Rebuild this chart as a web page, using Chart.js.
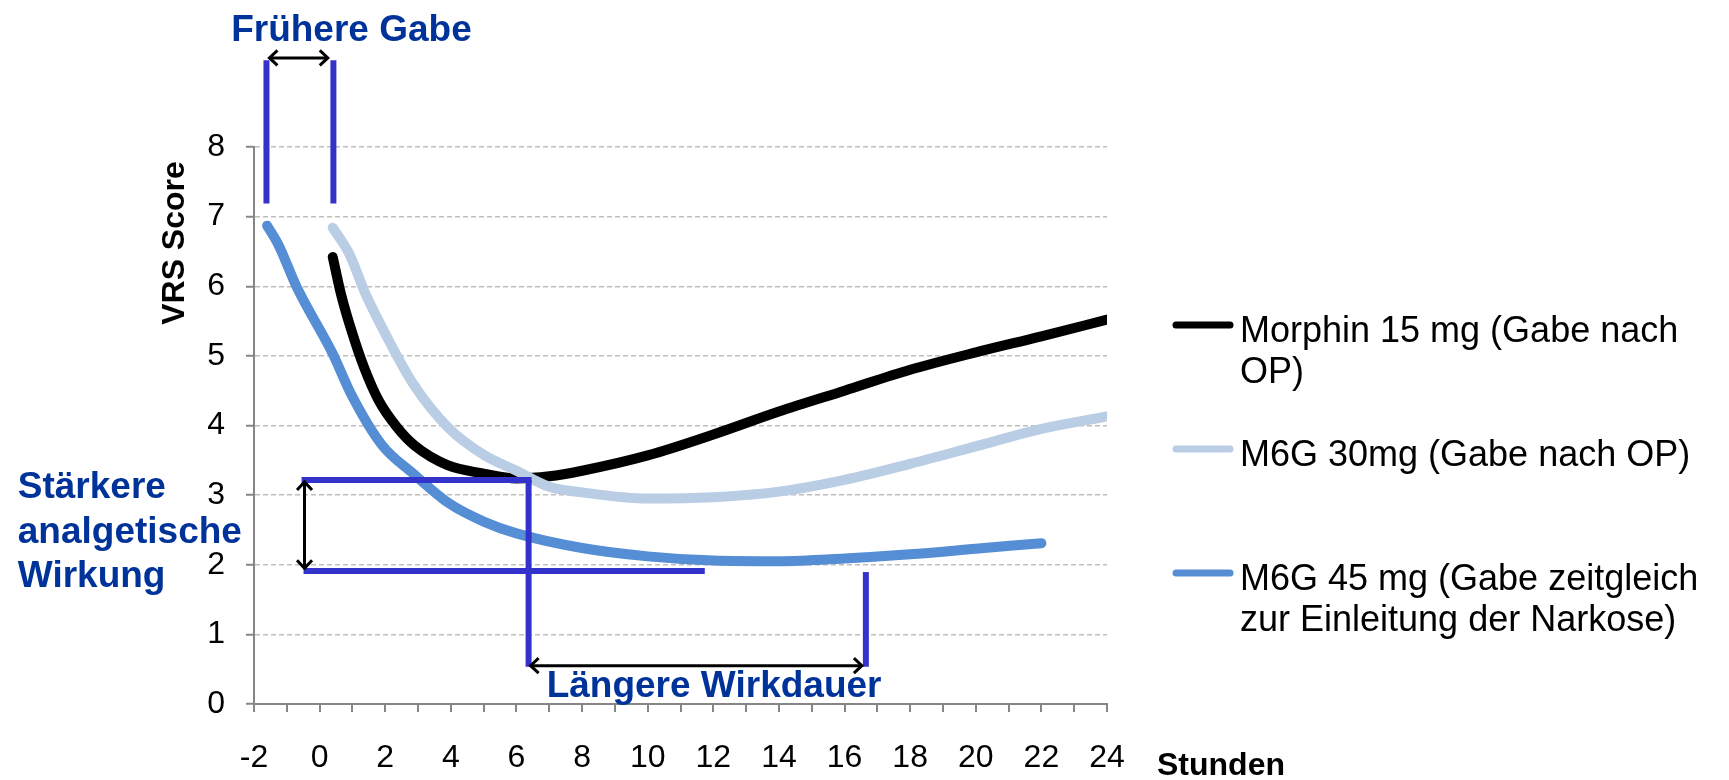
<!DOCTYPE html>
<html lang="de">
<head>
  <meta charset="UTF-8" />
  <title>VRS Score</title>
  <script src="https://cdn.jsdelivr.net/npm/chart.js"></script>
  <style>
    html, body { margin: 0; padding: 0; background: #fff; }
  </style>
</head>
<body>
  <canvas id="grafico" width="1729" height="780"></canvas>

  <script>
    // Werte
    const morphinX = [0.4, 0.65, 1.0, 1.35, 1.8, 2.35, 2.9, 3.9, 5.0, 6.0, 7.0, 8.0, 10, 12, 14, 16, 18, 20, 22, 24];
    const morphinY = [6.42, 5.89, 5.32, 4.84, 4.36, 3.98, 3.71, 3.43, 3.31, 3.24, 3.27, 3.35, 3.57, 3.87, 4.2, 4.5, 4.8, 5.05, 5.28, 5.52];

    const m6g30X = [0.4, 0.9, 1.4, 2.0, 2.85, 3.9, 5.0, 6.0, 7.0, 8.0, 10, 12, 14, 16, 18, 20, 22, 24];
    const m6g30Y = [6.84, 6.47, 5.89, 5.32, 4.60, 3.98, 3.58, 3.35, 3.12, 3.04, 2.95, 2.97, 3.05, 3.22, 3.45, 3.70, 3.95, 4.13];

    const m6g45X = [-1.6, -1.25, -0.7, 0.4, 0.95, 1.9, 2.85, 3.95, 5.0, 6.0, 8.0, 10, 12, 14, 16, 18, 20, 22];
    const m6g45Y = [6.87, 6.59, 5.99, 5.03, 4.46, 3.72, 3.31, 2.88, 2.62, 2.45, 2.24, 2.12, 2.06, 2.05, 2.09, 2.15, 2.23, 2.31];

    const legendTexts = [
      ['Morphin 15 mg (Gabe nach', 'OP)'],
      ['M6G 30mg (Gabe nach OP)'],
      ['M6G 45 mg (Gabe zeitgleich', 'zur Einleitung der Narkose)']
    ];
    const farben = ['#000000', '#b9cde5', '#558ed5'];

    const yTitel = 'VRS Score';
    const xTitel = 'Stunden';

    const schrift = "'Liberation Sans', Arial, sans-serif";

    // Markierungen in Achsenwerten (x in Stunden, y im VRS Score)
    const blaueLinien = [
      [-1.62, 9.245, -1.62, 7.19],
      [0.42, 9.245, 0.42, 7.19],
      [-0.55, 3.216, 6.46, 3.216],
      [6.37, 3.216, 6.37, 0.535],
      [-0.49, 1.91, 11.74, 1.91],
      [16.65, 1.895, 16.65, 0.535]
    ];
    const pfeile = [
      [-1.53, 9.28, 0.25, 9.28],
      [-0.46, 3.19, -0.46, 1.95],
      [6.43, 0.55, 16.53, 0.55]
    ];
    const hinweise = [
      { text: 'Frühere Gabe', x: 0.97, y: 9.52, align: 'center' },
      { text: 'Längere Wirkdauer', x: 6.92, y: 0.10, align: 'left' },
      { text: 'Stärkere', x: -9.2, y: 2.957, align: 'left' },
      { text: 'analgetische', x: -9.2, y: 2.311, align: 'left' },
      { text: 'Wirkung', x: -9.2, y: 1.68, align: 'left' }
    ];

    const punkte = (xs, ys) => xs.map((v, i) => ({ x: v, y: ys[i] }));

    function pfeilSpitze(ctx, x1, y1, x2, y2) {
      const a = Math.atan2(y2 - y1, x2 - x1);
      const l = 11;
      ctx.beginPath();
      ctx.moveTo(x2 + l * Math.cos(a + Math.PI - 0.75), y2 + l * Math.sin(a + Math.PI - 0.75));
      ctx.lineTo(x2, y2);
      ctx.lineTo(x2 + l * Math.cos(a + Math.PI + 0.75), y2 + l * Math.sin(a + Math.PI + 0.75));
      ctx.stroke();
    }

    const extras = {
      id: 'extras',
      afterDatasetsDraw(chart) {
        const { ctx, chartArea, scales: { x, y } } = chart;
        const px = v => x.getPixelForValue(v);
        const py = v => y.getPixelForValue(v);
        ctx.save();

        ctx.strokeStyle = '#3333cc';
        ctx.lineWidth = 6;
        ctx.lineCap = 'butt';
        blaueLinien.forEach(([a, b, c, d]) => {
          ctx.beginPath();
          ctx.moveTo(px(a), py(b));
          ctx.lineTo(px(c), py(d));
          ctx.stroke();
        });

        ctx.strokeStyle = '#000';
        ctx.lineWidth = 3;
        ctx.lineJoin = 'miter';
        pfeile.forEach(([a, b, c, d]) => {
          const x1 = px(a), y1 = py(b), x2 = px(c), y2 = py(d);
          ctx.beginPath();
          ctx.moveTo(x1, y1);
          ctx.lineTo(x2, y2);
          ctx.stroke();
          pfeilSpitze(ctx, x1, y1, x2, y2);
          pfeilSpitze(ctx, x2, y2, x1, y1);
        });

        ctx.fillStyle = '#003399';
        ctx.font = 'bold 37px ' + schrift;
        ctx.textBaseline = 'alphabetic';
        hinweise.forEach(h => {
          ctx.textAlign = h.align;
          ctx.fillText(h.text, px(h.x), py(h.y));
        });

        // Achsentitel
        ctx.fillStyle = '#000';
        ctx.font = 'bold 32px ' + schrift;
        ctx.textAlign = 'left';
        ctx.fillText(xTitel, chartArea.right + 50, 775);
        ctx.save();
        ctx.translate(184, 243);
        ctx.rotate(-Math.PI / 2);
        ctx.textAlign = 'center';
        ctx.fillText(yTitel, 0, 0);
        ctx.restore();

        // Legende
        const lx = chartArea.right + 69;
        const zeilenY = [325, 449, 573];
        ctx.font = '36px ' + schrift;
        ctx.lineCap = 'round';
        ctx.lineWidth = 7;
        legendTexts.forEach((zeilen, i) => {
          ctx.strokeStyle = farben[i];
          ctx.beginPath();
          ctx.moveTo(lx, zeilenY[i]);
          ctx.lineTo(lx + 54, zeilenY[i]);
          ctx.stroke();
          ctx.fillStyle = '#000';
          zeilen.forEach((t, j) => {
            ctx.fillText(t, lx + 64, zeilenY[i] + 17 + j * 41);
          });
        });

        ctx.restore();
      }
    };

    const serie = (label, daten, farbe, reihenfolge) => ({
      label: label,
      data: daten,
      borderColor: farbe,
      backgroundColor: farbe,
      borderWidth: 10,
      pointRadius: 0,
      showLine: true,
      fill: false,
      borderCapStyle: 'round',
      borderJoinStyle: 'round',
      cubicInterpolationMode: 'monotone',
      order: reihenfolge
    });

    Chart.defaults.font.family = schrift;
    Chart.defaults.color = '#000';

    const ctx = document.getElementById('grafico').getContext('2d');
    const chart = new Chart(ctx, {
      type: 'scatter',
      data: {
        datasets: [
          serie(legendTexts[0].join(' '), punkte(morphinX, morphinY), farben[0], 3),
          serie(legendTexts[1].join(' '), punkte(m6g30X, m6g30Y), farben[1], 2),
          serie(legendTexts[2].join(' '), punkte(m6g45X, m6g45Y), farben[2], 1)
        ]
      },
      options: {
        responsive: false,
        animation: false,
        layout: { padding: { left: 0, top: 147, right: 622, bottom: 0 } },
        plugins: {
          legend: { display: false },
          tooltip: { enabled: false }
        },
        scales: {
          x: {
            type: 'linear',
            min: -2,
            max: 24,
            ticks: {
              stepSize: 1,
              autoSkip: false,
              maxRotation: 0,
              padding: 27,
              color: '#000',
              font: { family: schrift, size: 32 },
              callback: v => (v % 2 === 0 ? v : '')
            },
            grid: { drawOnChartArea: false, tickLength: 8, color: '#868686', lineWidth: 2 },
            border: { color: '#868686', width: 2 },
            afterFit: s => { s.height = 76; }
          },
          y: {
            min: 0,
            max: 8,
            ticks: {
              stepSize: 1,
              padding: 21,
              color: '#000',
              font: { family: schrift, size: 32 }
            },
            grid: { color: '#bebebe', lineWidth: 1.5, tickLength: 8, tickColor: '#868686', tickWidth: 2 },
            border: { color: '#868686', width: 2, dash: [5, 3] },
            afterFit: s => { s.width = 254; }
          }
        }
      },
      plugins: [extras]
    });
  </script>
</body>
</html>
